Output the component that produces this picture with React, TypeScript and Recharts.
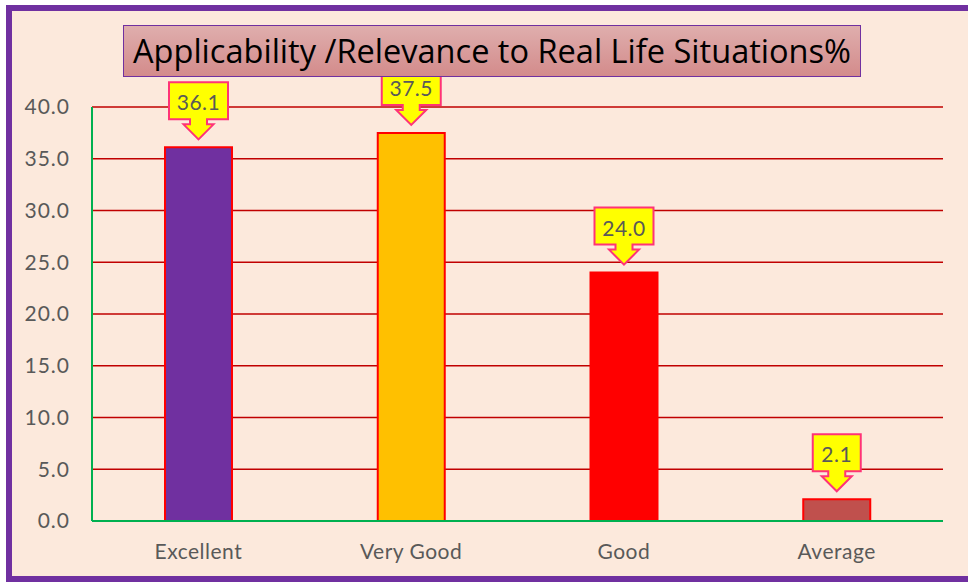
import React from 'react';
import { BarChart, Bar, XAxis, YAxis, CartesianGrid, Cell, LabelList } from 'recharts';

const categories = ['Excellent', 'Very Good', 'Good', 'Average'];
const percentages = [36.1, 37.5, 24.0, 2.1];
const barColors = ['#7030A0', '#FFC000', '#FF0000', '#C0504D'];
const yTicks = [0, 5, 10, 15, 20, 25, 30, 35, 40];

const data = categories.map((name, i) => ({ name, value: percentages[i] }));

const FONT = 'Lato, "Open Sans", sans-serif';

// yellow callout with a down arrow pointing at the bar top
function Callout(props: any) {
  const { x, y, width, value } = props;
  const txt = Number(value).toFixed(1);
  const cx = x + width / 2;
  const tip = y - 8;
  const headTop = tip - 15;
  const boxBottom = headTop - 5;
  const boxTop = boxBottom - 37;
  const w = txt.length * 11 + 15;
  const d = `M${cx - w / 2},${boxTop} H${cx + w / 2} V${boxBottom} H${cx + 8.5} V${headTop} H${cx + 15} L${cx},${tip} L${cx - 15},${headTop} H${cx - 8.5} V${boxBottom} H${cx - w / 2} Z`;
  return (
    <g>
      <path d={d} fill="#FFFF00" stroke="#FF3377" strokeWidth={2} />
      <text x={cx} y={(boxTop + boxBottom) / 2 + 1} textAnchor="middle" dominantBaseline="central" fontSize={21} letterSpacing={0.5} fill="#595959" fontFamily={FONT}>
        {txt}
      </text>
    </g>
  );
}

export default function App() {
  return (
    <div style={{ position: 'absolute', left: 0, top: 0, width: 968, height: 583, overflow: 'hidden' }}>
      <div style={{ position: 'absolute', left: 6, top: 5, width: 990, height: 577, boxSizing: 'border-box', border: '6px solid #7030A0', background: '#FCE9DC' }} />
      <div style={{ position: 'absolute', left: 0, top: 0 }}>
        <BarChart width={968} height={583} data={data} margin={{ top: 107, right: 25, bottom: 0, left: 0 }} barSize={67}>
          <CartesianGrid vertical={false} stroke="#C00000" strokeWidth={1.5} />
          <XAxis
            dataKey="name"
            height={62}
            stroke="#00B050"
            strokeWidth={2}
            tickLine={false}
            tickMargin={17}
            tick={{ fill: '#595959', fontSize: 21, fontFamily: FONT, letterSpacing: 0.5 }}
          />
          <YAxis
            width={92}
            domain={[0, 40]}
            ticks={yTicks}
            interval={0}
            stroke="#00B050"
            strokeWidth={2}
            tickLine={false}
            tickMargin={16}
            tickFormatter={(v: number) => v.toFixed(1)}
            tick={{ fill: '#595959', fontSize: 21, fontFamily: FONT, letterSpacing: 1 }}
          />
          <Bar dataKey="value" stroke="#FF0000" strokeWidth={2} isAnimationActive={false}>
            {data.map((d, i) => (
              <Cell key={d.name} fill={barColors[i]} />
            ))}
            <LabelList dataKey="value" content={(p: any) => <Callout {...p} />} />
          </Bar>
        </BarChart>
      </div>
      <div
        style={{
          position: 'absolute', left: 123, top: 25, width: 738, height: 52, boxSizing: 'border-box',
          border: '1px solid #7030A0', background: 'linear-gradient(#DFAEAD, #D38B8B)',
        }}
      >
        <svg width={736} height={50} style={{ display: 'block', overflow: 'visible' }}>
          <text x={368} y={37} textAnchor="middle" fontSize={32} fill="#000" fontFamily='"Open Sans", sans-serif' textLength={718} lengthAdjust="spacingAndGlyphs">
            Applicability /Relevance to Real Life Situations%
          </text>
        </svg>
      </div>
    </div>
  );
}
